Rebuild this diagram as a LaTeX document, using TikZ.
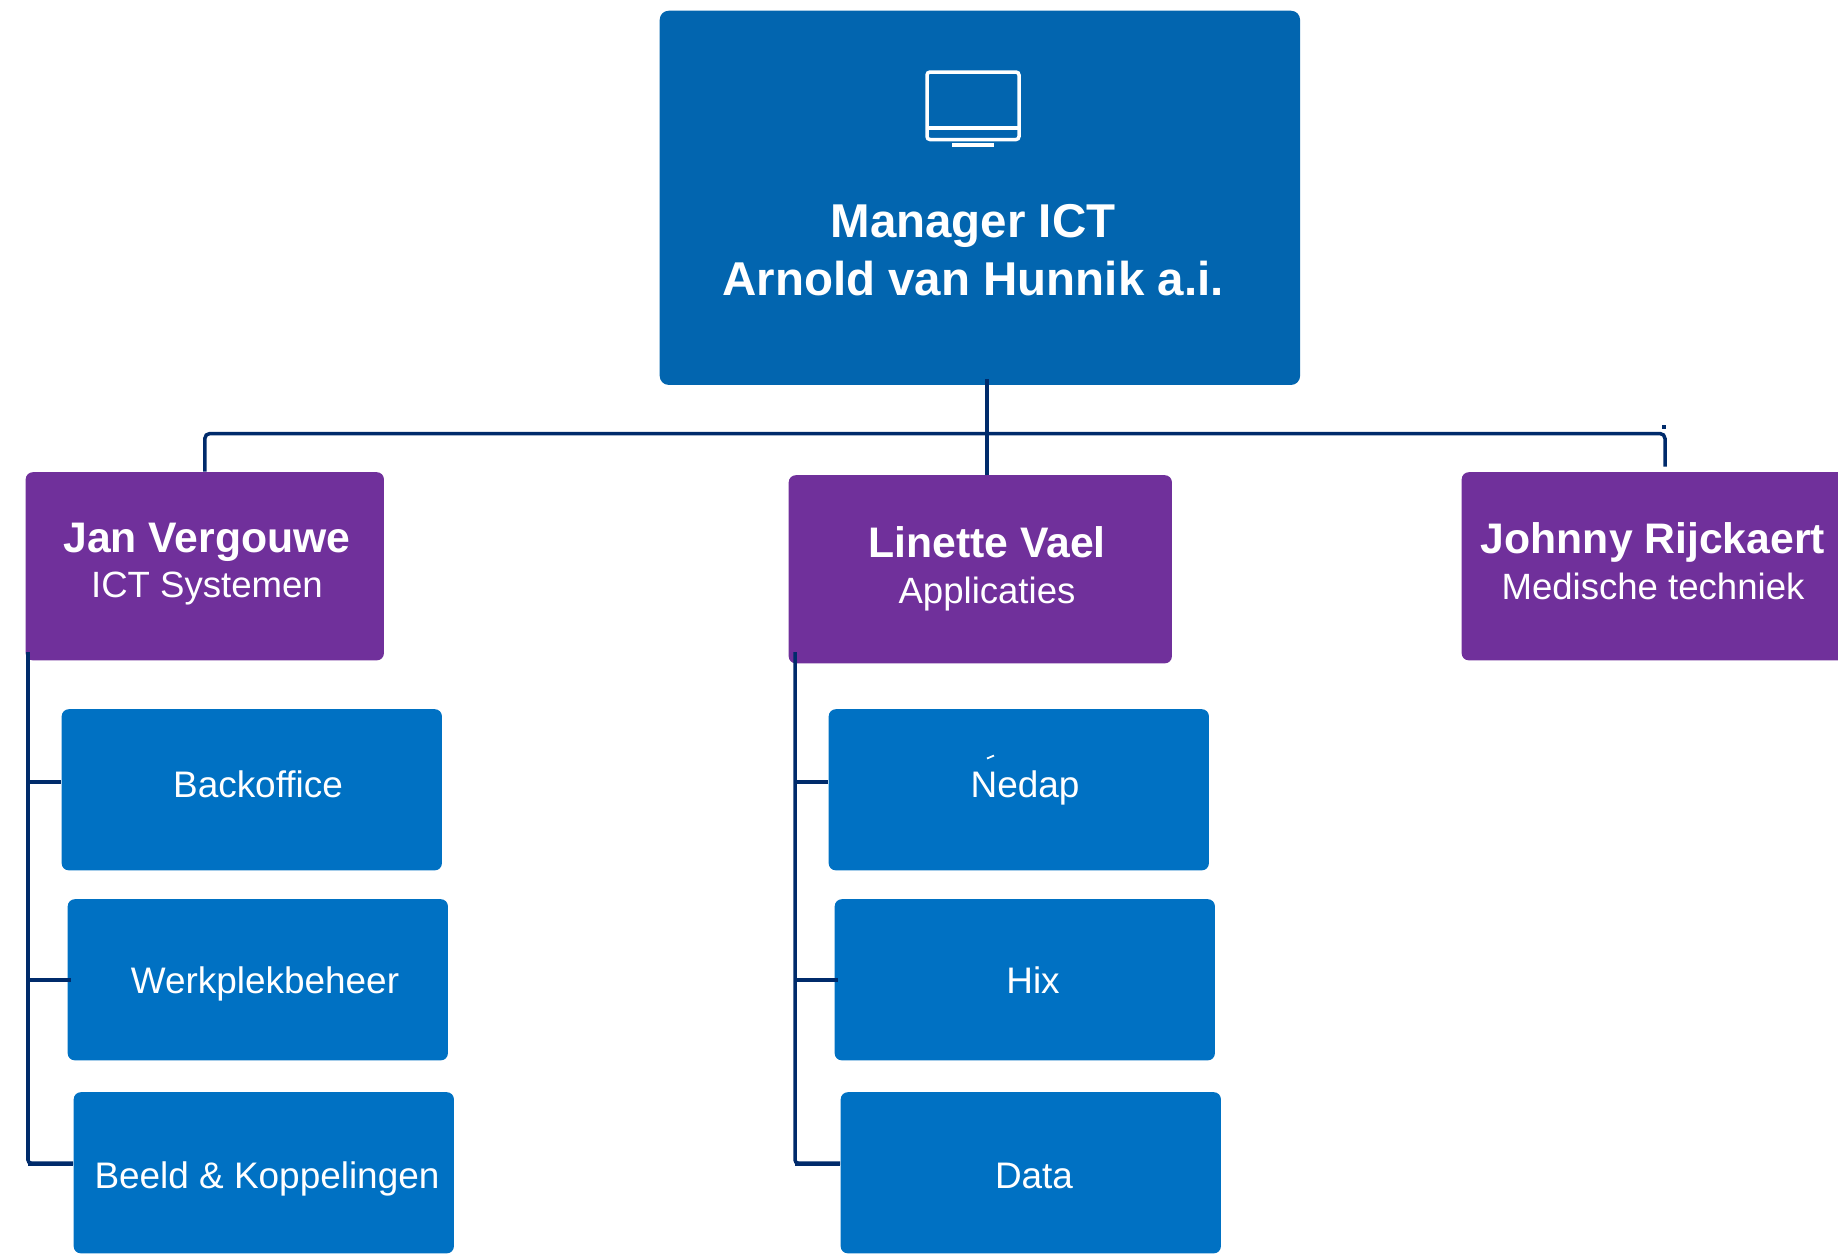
\documentclass[tikz,border=0pt]{standalone}
\usepackage{fontspec}
\setmainfont{Liberation Sans}

\definecolor{managerblue}{HTML}{0265AF}
\definecolor{headpurple}{HTML}{70309B}
\definecolor{teamblue}{HTML}{0071C3}
\definecolor{linkblue}{HTML}{002B6B}

\tikzset{
    manager/.style={fill=managerblue, rounded corners=0.09cm, anchor=north west,
        minimum width=6.40cm, minimum height=3.74cm, inner sep=0},
    head/.style={fill=headpurple, rounded corners=0.07cm, anchor=north west,
        minimum height=1.88cm, inner sep=0},
    team/.style={fill=teamblue, rounded corners=0.07cm, anchor=north west,
        minimum width=3.80cm, minimum height=1.61cm, inner sep=0},
    managertext/.style={text=white, font=\fontsize{13.5}{16.5}\selectfont\bfseries, align=center, inner sep=0},
    headtext/.style={text=white, font=\fontsize{10.4}{13}\selectfont, align=center, inner sep=0},
    teamtext/.style={text=white, font=\fontsize{10.5}{13}\selectfont, anchor=base, inner sep=0},
    link/.style={draw=linkblue, line width=0.035cm},
}
\newcommand{\headname}[1]{{\fontsize{12.15}{14}\selectfont\bfseries #1}}

\begin{document}
\begin{tikzpicture}[x=0.01cm, y=-0.01cm]

    \useasboundingbox (0,0) rectangle (1838,1253);

    % Manager
    \node[manager] (manager) at (659,10) {};
    \node[managertext] (managerlabel) at (973,250) {Manager ICT\\Arnold van Hunnik a.i.};

    % Screen icon
    \draw[white, line width=0.035cm, rounded corners=0.03cm] (927,72) rectangle (1019,139.5);
    \draw[white, line width=0.035cm] (927,128) -- (1019,128);
    \draw[white, line width=0.035cm] (952,145) -- (994,145);

    % Heads
    \node[head, minimum width=3.58cm] (jan) at (25,471.5) {};
    \node[head, minimum width=3.83cm] (linette) at (788,474.5) {};
    \node[head, minimum width=4.00cm] (johnny) at (1461,471.5) {};
    \node[headtext] (janlabel) at (207,564) {\headname{Jan Vergouwe}\\ICT Systemen};
    \node[headtext] (linettelabel) at (987,569) {\headname{Linette Vael}\\Applicaties};
    \node[headtext] (johnnylabel) at (1653,561) {\headname{Johnny Rijckaert}\\Medische techniek};

    % Teams below Jan
    \node[team] (backoffice) at (61,708.5) {};
    \node[team] (werkplek) at (67,898.5) {};
    \node[team] (beeld) at (73,1091.5) {};
    \node[teamtext] (backofficelabel) at (258,797.5) {Backoffice};
    \node[teamtext] (werkpleklabel) at (265,993) {Werkplekbeheer};
    \node[teamtext] (beeldlabel) at (267,1188) {Beeld \& Koppelingen};

    % Teams below Linette
    \node[team] (nedap) at (828,708.5) {};
    \node[team] (hix) at (834,898.5) {};
    \node[team] (data) at (840,1091.5) {};
    \node[teamtext] (nedaplabel) at (1025,797.5) {Nedap};
    \node[teamtext] (hixlabel) at (1033,993) {Hix};
    \node[teamtext] (datalabel) at (1034,1188) {Data};
    \draw[white, line width=0.018cm] (987,758.5) -- (994,755.5);

    % Manager to heads
    \coordinate (managerdrop) at (987,379);
    \coordinate (johnnyturn) at (1665,433.5);
    \coordinate (johnnydrop) at (1665,466.5);
    \coordinate (johnnytick) at (1664,425);
    \draw[link] (managerdrop) -- (managerdrop |- linette.north);
    \draw[link, rounded corners=0.05cm] (jan.north) -- (jan.north |- johnnyturn) -- (johnnyturn) -- (johnnydrop);
    \draw[link] (johnnytick) -- ++(0,4);

    % Jan to teams
    \coordinate (jantop) at (28,652);
    \coordinate (janback) at (28,782);
    \coordinate (janwerk) at (28,980);
    \coordinate (janbeeld) at (28,1163);
    \draw[link, rounded corners=0.03cm] (jantop) -- (janbeeld) -- (janbeeld -| beeld.west);
    \draw[link, line width=0.045cm] ([yshift=-0.01cm]janbeeld) -- ([yshift=-0.01cm]janbeeld -| beeld.west);
    \draw[link] (janback) -- (janback -| backoffice.west);
    \draw[link] (janwerk) -- ([xshift=0.04cm]janwerk -| werkplek.west);

    % Linette to teams
    \coordinate (linettetop) at (795,652);
    \coordinate (linettenedap) at (795,782);
    \coordinate (linettehix) at (795,980);
    \coordinate (linettedata) at (795,1163);
    \draw[link, rounded corners=0.03cm] (linettetop) -- (linettedata) -- (linettedata -| data.west);
    \draw[link, line width=0.045cm] ([yshift=-0.01cm]linettedata) -- ([yshift=-0.01cm]linettedata -| data.west);
    \draw[link] (linettenedap) -- (linettenedap -| nedap.west);
    \draw[link] (linettehix) -- ([xshift=0.04cm]linettehix -| hix.west);

\end{tikzpicture}
\end{document}
